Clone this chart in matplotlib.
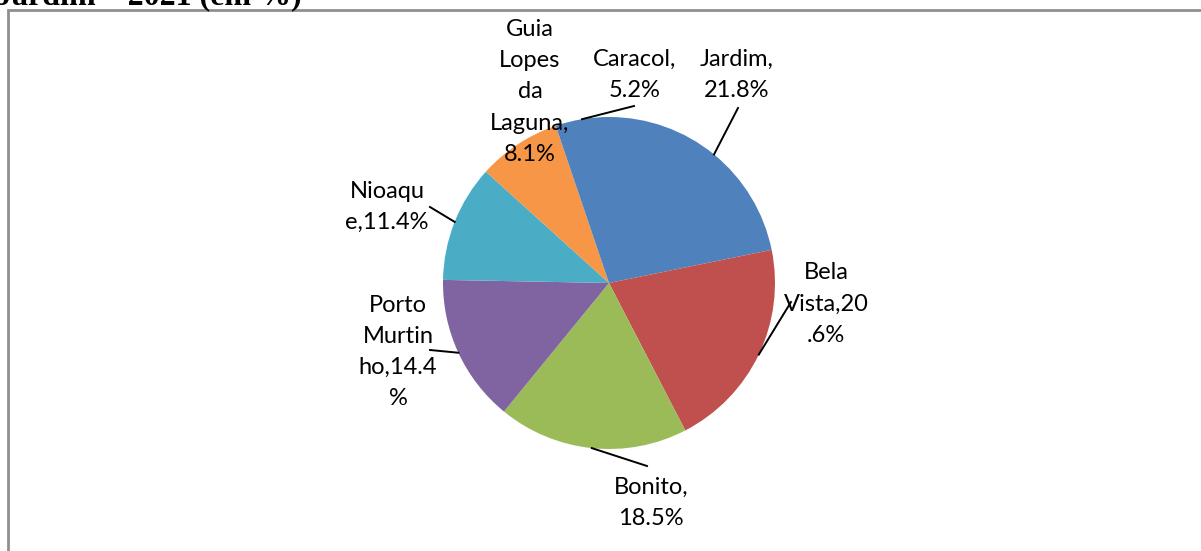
import numpy as np
import matplotlib.pyplot as plt
from matplotlib.patches import Rectangle

# Data (share in %)
cities = ["Jardim", "Bela Vista", "Bonito", "Porto Murtinho", "Nioaque",
          "Guia Lopes da Laguna", "Caracol"]
shares = [21.8, 20.6, 18.5, 14.4, 11.4, 8.1, 5.2]
labels = ["Jardim,\n21.8%", "Bela\nVista,20\n.6%", "Bonito,\n18.5%",
          "Porto\nMurtin\nho,14.4\n%", "Nioaqu\ne,11.4%",
          "Guia\nLopes\nda\nLaguna,\n8.1%", "Caracol,\n5.2%"]
colors = ["#4F81BD", "#C0504D", "#9BBB59", "#8064A2", "#4BACC6", "#F79646", "#4F81BD"]

# layout (pixel space, y up)
W, H = 1201, 551
cx, cy, R = 609, H - 283, 166
label_xy = [(737, H - 75), (826, H - 304), (651, H - 503), (398, H - 352),
            (387, H - 207), (530, H - 92), (635, H - 75)]
leader_end = [(738, H - 108), (791, H - 302), (647, H - 466), (430, H - 350),
              (430, H - 207), None, (634, H - 106)]

fig = plt.figure(figsize=(W / 100, H / 100), dpi=100)
ax = fig.add_axes([0, 0, 1, 1])

wedges, _ = ax.pie(shares, colors=colors, startangle=90, counterclock=False,
                   center=(cx, cy), radius=R, frame=True,
                   wedgeprops=dict(linewidth=0))
ax.set_xlim(0, W)
ax.set_ylim(0, H)
ax.axis("off")

for w, lab, (lx, ly), end in zip(wedges, labels, label_xy, leader_end):
    mid = np.deg2rad((w.theta1 + w.theta2) / 2)
    if end is not None:
        sx, sy = cx + R * np.cos(mid), cy + R * np.sin(mid)
        ax.plot([sx, end[0]], [sy, end[1]], color="black", lw=1.4, zorder=3)
    ax.text(lx, ly, lab, ha="center", va="center", fontsize=17,
            family="Lato", linespacing=1.6, zorder=4)

# chart border (cropped)
ax.add_patch(Rectangle((8, -10), W + 20, H - 10 + 10, fill=False,
                       edgecolor="#8f8f8f", lw=2, zorder=1))

# cropped title
fig.text(-0.003, 1 - 4 / H, "Jardim – 2021 (em %)", ha="left", va="baseline",
         fontsize=23, family="Liberation Serif", weight="bold")

fig.savefig("out.png", dpi=100)
